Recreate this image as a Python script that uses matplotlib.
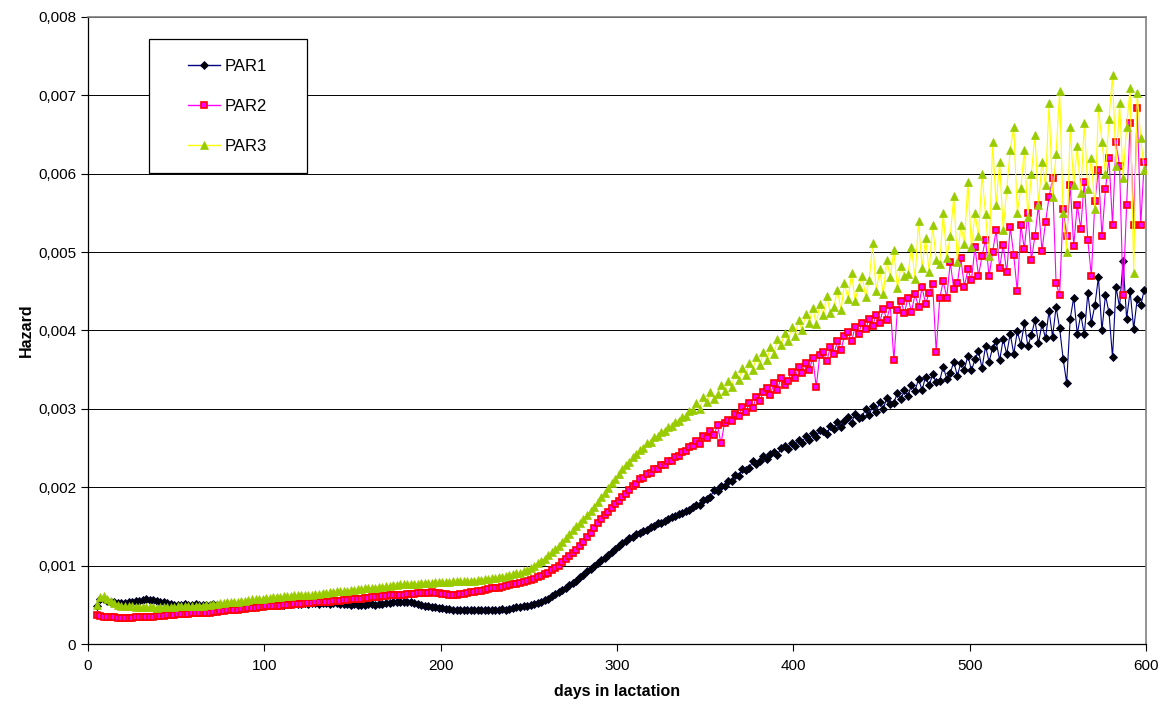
import matplotlib
matplotlib.use("Agg")
import matplotlib.pyplot as plt
import matplotlib.ticker as mticker
from matplotlib.patches import Rectangle
import numpy as np

plt.rcParams["font.family"] = ["Liberation Sans", "DejaVu Sans"]

# ---------------------------------------------------------------------------
# Data (hazard values, in units of 1e-4, every 2nd day)
# ---------------------------------------------------------------------------
DAYS = np.arange(5, 600, 2)

PAR1 = [
    4.8, 5.8, 5.7, 5.5, 5.4, 5.3, 5.2, 5.2, 5.2, 5.3,
    5.4, 5.5, 5.5, 5.6, 5.7, 5.6, 5.6, 5.5, 5.4, 5.3,
    5.2, 5.1, 5.0, 5.0, 5.0, 5.1, 5.0, 5.0, 5.1, 5.0,
    5.0, 5.0, 5.0, 5.1, 5.0, 5.0, 5.0, 5.1, 5.0, 5.0,
    5.0, 4.9, 5.0, 5.0, 4.9, 5.0, 5.0, 5.0, 5.0, 5.1,
    5.0, 5.1, 5.1, 5.0, 5.1, 5.1, 5.2, 5.1, 5.1, 5.2,
    5.1, 5.2, 5.2, 5.1, 5.2, 5.2, 5.1, 5.2, 5.2, 5.1,
    5.1, 5.1, 5.0, 5.1, 5.0, 5.0, 5.0, 5.1, 5.1, 5.0,
    5.1, 5.1, 5.2, 5.2, 5.3, 5.3, 5.4, 5.4, 5.3, 5.3,
    5.2, 5.1, 5.0, 4.9, 4.8, 4.7, 4.7, 4.6, 4.6, 4.5,
    4.5, 4.4, 4.4, 4.3, 4.3, 4.3, 4.3, 4.3, 4.3, 4.3,
    4.4, 4.3, 4.4, 4.4, 4.4, 4.5, 4.4, 4.5, 4.6, 4.7,
    4.7, 4.8, 4.9, 5.0, 5.1, 5.2, 5.4, 5.6, 5.8, 6.1,
    6.4, 6.6, 6.9, 7.2, 7.5, 7.8, 8.1, 8.5, 8.8, 9.3,
    9.6, 10.0, 10.3, 10.7, 11.0, 11.4, 11.7, 12.1, 12.5, 12.9,
    13.1, 13.5, 13.6, 14.0, 14.1, 14.4, 14.5, 14.9, 15.0, 15.4,
    15.5, 15.7, 15.9, 16.2, 16.3, 16.6, 16.7, 17.0, 17.1, 17.5,
    17.7, 17.7, 18.4, 18.5, 18.8, 19.6, 19.5, 20.1, 20.1, 20.8,
    20.8, 21.6, 21.4, 22.3, 22.2, 22.5, 23.3, 23.0, 23.3, 24.0,
    23.6, 24.2, 24.5, 24.1, 25.0, 25.2, 24.9, 25.6, 25.3, 26.0,
    25.7, 26.5, 26.0, 26.9, 26.4, 27.3, 27.2, 26.8, 27.8, 27.4,
    28.3, 27.7, 28.5, 28.9, 28.2, 29.4, 28.8, 29.0, 30.0, 29.2,
    30.4, 29.6, 30.9, 30.0, 31.4, 30.6, 30.8, 32.0, 31.2, 32.4,
    31.6, 33.1, 32.3, 33.8, 32.4, 34.1, 33.0, 34.4, 33.4, 33.6,
    35.4, 33.8, 34.6, 36.0, 34.2, 35.9, 35.0, 36.8, 34.9, 36.3,
    37.4, 35.2, 38.0, 36.0, 37.8, 38.6, 36.2, 38.9, 37.0, 39.6,
    37.0, 39.9, 38.2, 40.9, 38.0, 39.4, 41.3, 38.4, 40.8, 39.0,
    42.5, 39.2, 43.0, 40.3, 36.4, 33.3, 41.5, 44.2, 39.6, 42.0,
    39.5, 44.8, 41.0, 43.2, 46.8, 40.0, 44.5, 42.3, 36.6, 45.5,
    43.0, 48.9, 41.5, 45.0, 40.2, 44.0, 43.2, 45.2,
]

PAR2 = [
    3.7, 3.6, 3.5, 3.5, 3.4, 3.4, 3.3, 3.3, 3.3, 3.3,
    3.3, 3.4, 3.4, 3.4, 3.5, 3.5, 3.5, 3.6, 3.6, 3.6,
    3.7, 3.7, 3.7, 3.8, 3.8, 3.8, 3.8, 3.9, 3.9, 3.9,
    4.0, 4.0, 4.0, 4.1, 4.1, 4.2, 4.2, 4.3, 4.3, 4.4,
    4.4, 4.5, 4.5, 4.6, 4.6, 4.6, 4.7, 4.7, 4.8, 4.8,
    4.8, 4.9, 4.9, 5.0, 5.0, 5.0, 5.1, 5.1, 5.1, 5.2,
    5.2, 5.2, 5.3, 5.3, 5.3, 5.4, 5.4, 5.5, 5.5, 5.5,
    5.6, 5.6, 5.7, 5.7, 5.8, 5.8, 5.9, 5.9, 6.0, 6.0,
    6.0, 6.1, 6.1, 6.2, 6.2, 6.3, 6.3, 6.3, 6.4, 6.4,
    6.4, 6.5, 6.5, 6.5, 6.5, 6.6, 6.5, 6.5, 6.4, 6.4,
    6.3, 6.3, 6.3, 6.4, 6.4, 6.5, 6.6, 6.6, 6.7, 6.8,
    6.9, 7.0, 7.1, 7.1, 7.2, 7.3, 7.4, 7.5, 7.6, 7.7,
    7.8, 7.9, 8.0, 8.2, 8.3, 8.5, 8.7, 8.9, 9.1, 9.4,
    9.7, 10.0, 10.4, 10.8, 11.2, 11.6, 12.0, 12.5, 13.0, 13.6,
    14.2, 14.8, 15.4, 15.9, 16.4, 16.9, 17.4, 17.9, 18.3, 18.7,
    19.2, 19.6, 20.2, 20.4, 21.0, 21.2, 21.7, 21.8, 22.3, 22.3,
    22.8, 22.8, 23.3, 23.4, 23.9, 24.0, 24.5, 24.6, 25.1, 25.2,
    25.9, 25.5, 26.6, 26.3, 27.2, 26.7, 27.9, 25.6, 28.2, 28.6,
    28.4, 29.3, 29.1, 30.2, 29.6, 30.7, 30.1, 31.5, 31.0, 32.1,
    32.6, 31.8, 33.3, 32.4, 34.0, 33.0, 33.6, 34.7, 33.9, 35.4,
    34.6, 35.9, 35.0, 36.5, 32.8, 36.9, 37.2, 36.1, 37.9, 37.0,
    38.6, 37.5, 39.3, 39.8, 38.6, 40.4, 39.6, 41.0, 40.2, 41.5,
    40.6, 42.0, 41.0, 42.8, 41.4, 43.2, 36.2, 42.6, 43.8, 42.2,
    44.2, 42.4, 44.6, 43.0, 45.5, 43.4, 44.8, 45.9, 37.3, 44.1,
    46.3, 44.2, 48.7, 45.3, 46.0, 49.2, 45.6, 47.8, 46.4, 50.6,
    47.0, 49.5, 51.6, 46.9, 50.0, 52.8, 48.0, 50.9, 47.4, 53.2,
    49.6, 45.0, 53.5, 50.4, 55.0, 49.0, 52.0, 56.0, 50.2, 53.8,
    57.0, 59.4, 46.0, 44.5, 55.5, 52.0, 58.6, 50.8, 56.0, 53.0,
    59.0, 51.5, 47.0, 56.5, 60.5, 52.0, 58.0, 62.0, 53.5, 64.0,
    61.0, 44.5, 56.0, 66.5, 53.5, 68.4, 53.5, 61.5,
]

PAR3 = [
    5.0, 6.0, 6.1, 5.8, 5.5, 5.2, 5.0, 4.9, 4.8, 4.8,
    4.8, 4.7, 4.7, 4.7, 4.7, 4.7, 4.7, 4.6, 4.7, 4.7,
    4.7, 4.7, 4.7, 4.8, 4.8, 4.8, 4.8, 4.8, 4.9, 4.9,
    4.9, 5.0, 5.0, 5.1, 5.1, 5.2, 5.2, 5.3, 5.3, 5.4,
    5.4, 5.5, 5.5, 5.6, 5.7, 5.7, 5.8, 5.8, 5.9, 5.9,
    6.0, 6.0, 6.0, 6.1, 6.1, 6.1, 6.2, 6.2, 6.2, 6.3,
    6.3, 6.3, 6.4, 6.4, 6.5, 6.5, 6.6, 6.6, 6.7, 6.7,
    6.8, 6.8, 6.9, 6.9, 7.0, 7.0, 7.1, 7.1, 7.2, 7.2,
    7.3, 7.3, 7.4, 7.4, 7.5, 7.5, 7.6, 7.6, 7.6, 7.7,
    7.7, 7.7, 7.8, 7.8, 7.8, 7.8, 7.9, 7.9, 7.9, 7.9,
    7.9, 8.0, 8.0, 8.0, 8.0, 8.1, 8.1, 8.1, 8.2, 8.2,
    8.3, 8.3, 8.4, 8.4, 8.5, 8.6, 8.7, 8.8, 8.9, 9.0,
    9.1, 9.3, 9.5, 9.7, 10.0, 10.3, 10.6, 10.9, 11.3, 11.7,
    12.1, 12.5, 13.0, 13.5, 14.0, 14.5, 15.0, 15.5, 16.0, 16.5,
    17.0, 17.5, 18.1, 18.7, 19.3, 19.9, 20.5, 21.1, 21.7, 22.3,
    22.8, 23.2, 23.9, 24.2, 24.8, 25.0, 25.6, 25.8, 26.4, 26.5,
    27.1, 27.2, 27.7, 27.8, 28.3, 28.4, 28.9, 29.1, 29.7, 29.9,
    30.8, 30.0, 31.5, 30.9, 32.2, 31.3, 31.9, 33.0, 32.3, 33.6,
    32.8, 34.4, 33.7, 35.2, 34.3, 35.8, 35.0, 36.6, 35.6, 37.2,
    36.2, 37.9, 37.0, 38.9, 38.1, 39.7, 38.6, 40.4, 39.3, 41.3,
    40.0, 42.1, 41.0, 42.9, 40.8, 43.4, 42.0, 44.4, 42.2, 43.0,
    45.2, 42.6, 46.0, 44.0, 47.3, 43.8, 45.5, 47.0, 44.3, 46.4,
    51.2, 45.0, 47.8, 44.6, 49.0, 46.8, 50.3, 45.4, 48.2, 47.0,
    47.2, 50.6, 46.6, 54.0, 48.0, 51.8, 47.5, 53.4, 49.0, 48.5,
    55.0, 49.2, 52.0, 57.2, 48.8, 53.5, 51.0, 59.0, 50.6, 55.0,
    52.0, 60.0, 54.8, 49.5, 64.0, 56.0, 61.5, 52.8, 58.0, 63.0,
    66.0, 55.0, 58.2, 63.0, 54.5, 60.0, 65.0, 56.0, 61.5, 58.5,
    69.0, 57.0, 62.5, 70.5, 55.0, 50.0, 66.0, 58.5, 63.5, 57.5,
    66.5, 58.0, 62.0, 55.5, 68.5, 64.0, 60.0, 67.0, 72.6, 61.0,
    69.0, 59.5, 66.0, 71.0, 47.3, 70.3, 64.5, 60.5,
]

UNIT = 1e-4
X_TICKS = [0, 100, 200, 300, 400, 500, 600]
Y_TICKS = [0, 0.001, 0.002, 0.003, 0.004, 0.005, 0.006, 0.007, 0.008]


def _comma_fmt(v, _):
    if abs(v) < 1e-12:
        return "0"
    return f"{v:.3f}".replace(".", ",")


fig = plt.figure(figsize=(11.7, 7.07), dpi=100)
ax = fig.add_axes([0.0752, 0.0891, 0.9043, 0.8869])

y1 = np.array(PAR1) * UNIT
y2 = np.array(PAR2) * UNIT
y3 = np.array(PAR3) * UNIT

ax.plot(DAYS, y1, color="#000080", linewidth=0.8, marker="D", markersize=4.2,
        markerfacecolor="#000000", markeredgecolor="#000033",
        markeredgewidth=0.6, label="PAR1", zorder=3)
ax.plot(DAYS, y2, color="#FF00FF", linewidth=0.8, marker="s", markersize=4.8,
        markerfacecolor="#FF00FF", markeredgecolor="#FF0000",
        markeredgewidth=1.2, label="PAR2", zorder=4)
ax.plot(DAYS, y3, color="#FFFF00", linewidth=0.8, marker="^", markersize=5.8,
        markerfacecolor="#99CC00", markeredgecolor="#99CC00",
        markeredgewidth=0.5, label="PAR3", zorder=5)

ax.set_xlim(0, 600)
ax.set_ylim(0, 0.008)
ax.set_xticks(X_TICKS)
ax.set_yticks(Y_TICKS)
ax.yaxis.set_major_formatter(mticker.FuncFormatter(_comma_fmt))
ax.tick_params(axis="both", direction="out", length=5, width=0.8,
               labelsize=11, colors="black")
ax.tick_params(axis="x", pad=6)

ax.grid(axis="y", color="#000000", linewidth=0.7, zorder=1)
ax.set_axisbelow(True)
for side in ("left", "bottom"):
    ax.spines[side].set_color("#000000")
    ax.spines[side].set_linewidth(0.9)
for side in ("top", "right"):
    ax.spines[side].set_color("#808080")
    ax.spines[side].set_linewidth(1.2)

ax.set_xlabel("days in lactation", fontsize=11.5, fontweight="bold", labelpad=8)
ax.set_ylabel("Hazard", fontsize=11.5, fontweight="bold", labelpad=3)

# legend box like the spreadsheet original
box_x, box_y, box_w, box_h = 0.0577, 0.751, 0.149, 0.214
ax.add_patch(Rectangle((box_x, box_y), box_w, box_h, transform=ax.transAxes,
                       facecolor="white", edgecolor="#000000", linewidth=0.9,
                       zorder=10))
leg = ax.legend(loc="center", bbox_to_anchor=(box_x + box_w / 2, box_y + box_h / 2),
                frameon=False, fontsize=12, labelspacing=1.5,
                handlelength=1.9, handletextpad=0.3, borderpad=0)
leg.set_zorder(11)
for line in leg.get_lines():
    line.set_linewidth(1.0)

fig.savefig("out.png", dpi=100)
